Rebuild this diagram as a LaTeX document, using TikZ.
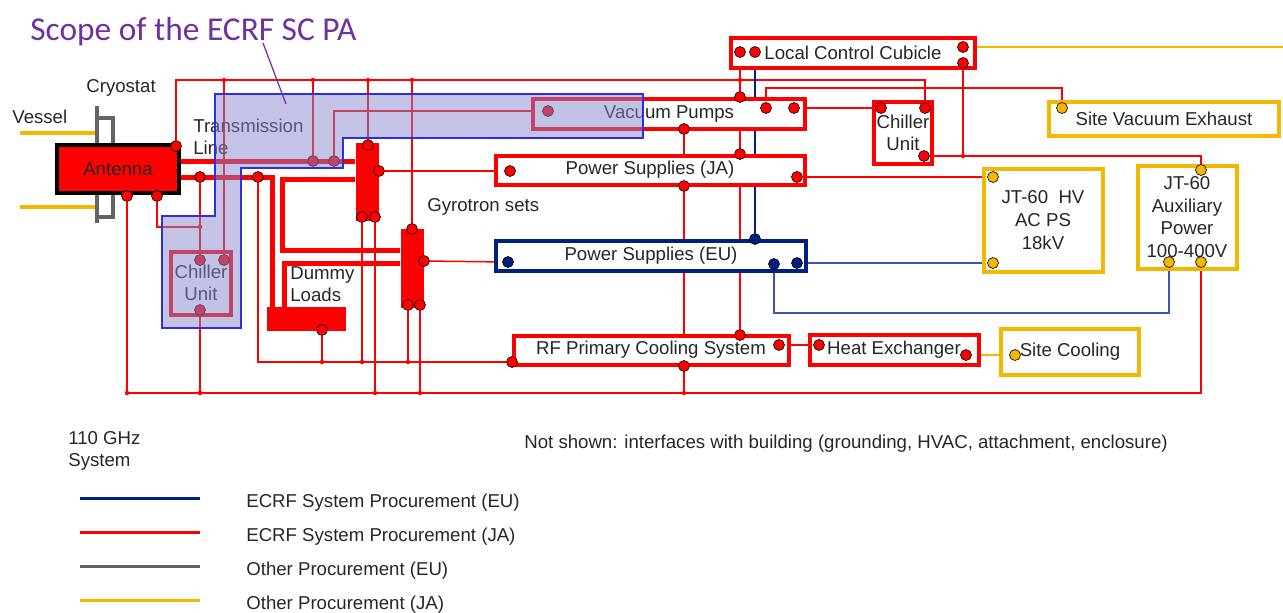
\documentclass[tikz,border=0pt]{standalone}
\usepackage{fontspec}
\setmainfont{Liberation Sans}
\newfontfamily\scopefont{Carlito}
\usepackage{xcolor}
\definecolor{jared}{RGB}{255,0,0}
\definecolor{eunavy}{RGB}{0,32,128}
\definecolor{eulink}{RGB}{60,85,175}
\definecolor{jayellow}{RGB}{243,183,0}
\definecolor{eugray}{RGB}{100,100,100}
\definecolor{scopepurple}{RGB}{112,48,160}
\definecolor{scopefill}{RGB}{135,135,205}
\definecolor{scopeedge}{RGB}{45,45,225}
\definecolor{txtgray}{RGB}{38,38,38}
\usepackage{tikz}
\usetikzlibrary{positioning,calc,backgrounds}
\newcommand\diagfont{\fontsize{10.6pt}{12.6pt}\selectfont}
\tikzset{
  redbox/.style={rectangle,draw=jared,fill=white,line width=0.8mm,text=txtgray,
    align=center,font=\diagfont,inner sep=0.5mm},
  eubox/.style={redbox,draw=eunavy},
  jabox/.style={redbox,draw=jayellow,font=\fontsize{10.6pt}{13pt}\selectfont},
  antbox/.style={redbox,draw=black,fill=jared},
  gyrobox/.style={rectangle,fill=jared,inner sep=0pt},
  rdot/.style={circle,draw=black,line width=0.35pt,fill=jared,minimum size=2.2mm,inner sep=0pt},
  bdot/.style={rdot,fill=eunavy},
  ydot/.style={rdot,fill=jayellow},
  junct/.style={fill=jared},
  wg/.style={draw=jared,line width=1mm},
  sig/.style={draw=jared,line width=0.3mm},
  eusig/.style={draw=eunavy,line width=0.3mm},
  linksig/.style={draw=eulink,line width=0.3mm},
  jasig/.style={draw=jayellow,line width=0.3mm},
  cryo/.style={draw=eugray,line width=0.8mm},
  vessel/.style={draw=jayellow,line width=0.8mm},
  lbl/.style={font=\diagfont,text=txtgray,inner sep=0pt},
  scopearea/.style={draw=scopeedge,line width=0.25mm,fill=scopefill,fill opacity=0.5},
}

\begin{document}
\begin{tikzpicture}[x=0.2mm,y=-0.2mm]
  \useasboundingbox (0,0) rectangle (1283,612);
  % equipment
  \node[antbox,minimum width=24.4mm,minimum height=9.6mm] (ant) at (118,169) {Antenna};
  \node[redbox,minimum width=48.8mm,minimum height=6mm] (lcc) at (853,53) {Local Control Cubicle};
  \node[redbox,minimum width=54.4mm,minimum height=6mm] (vp) at (669,114) {Vacuum Pumps};
  \node[redbox,minimum width=61.8mm,minimum height=5.8mm] (psja) at (650,170) {Power Supplies (JA)};
  \node[eubox,minimum width=62mm,minimum height=6mm] (pseu) at (651,256) {Power Supplies (EU)};
  \node[redbox,minimum width=55mm,minimum height=5.8mm] (rfpcs) at (651,350) {RF Primary Cooling System};
  \node[redbox,minimum width=33.8mm,minimum height=6mm] (hx) at (894,350) {Heat Exchanger};
  \node[redbox,minimum width=11.6mm,minimum height=12.4mm] (chr) at (903,133) {Chiller\\Unit};
  \node[redbox,minimum width=12mm,minimum height=12.6mm] (chl) at (201,283) {Chiller\\Unit};
  \node[jabox,minimum width=46mm,minimum height=6.8mm] (sve) at (1164,119) {Site Vacuum Exhaust};
  \node[jabox,minimum width=23.8mm,minimum height=20.6mm] (hv) at (1043,220) {JT-60\ \ HV\\AC PS\\18kV};
  \node[jabox,minimum width=19.8mm,minimum height=20.6mm] (aux) at (1187,217) {JT-60\\Auxiliary\\Power\\100-400V};
  \node[jabox,minimum width=27.6mm,minimum height=9.2mm] (sc) at (1070,352) {Site Cooling};
  \node[gyrobox,minimum width=4.6mm,minimum height=15.6mm] (gy1) at (367,182) {};
  \node[gyrobox,minimum width=4.6mm,minimum height=15.8mm] (gy2) at (412,268) {};
  \node[gyrobox,minimum width=15.8mm,minimum height=4.8mm] (dl) at (306,319) {};
  % ports
  \foreach \n/\x/\y in {a1/176/146,a2/127/196,a3/157/196,t1/313/161,t2/334/161,w1/200/177,w2/258/177,
      g1t/368/145,g1r/379/171,g1a/362/217,g1b/375/217,g2t/412/229,g2r/424/261,g2a/408/305,g2b/420/305,
      d1/322/330,cl1/200/260,cl2/224/260,cl3/200/310,l1/740/52,l2/755/52,l3/963/47,l4/963/63,
      v1/548/111,v2/740/97,v3/766/108,v4/794/108,v5/684/129,j1/510/171,j2/740/154,j3/684/186,j4/797/177,
      r1/512/362,r2/740/335,r3/684/366,r4/779/345,h1/819/345,h2/966/355,c1/881/108,c2/925/108,c3/924/156}
    {\node[rdot] (\n) at (\x,\y) {};}
  \foreach \n/\x/\y in {e1/508/262,e2/755/239,e3/774/264,e4/797/263}
    {\node[bdot] (\n) at (\x,\y) {};}
  \foreach \n/\x/\y in {s1/1062/108,hv1/993/177,hv2/993/263,x1/1201/170,x2/1169/262,x3/1201/262,sc1/1015/355}
    {\node[ydot] (\n) at (\x,\y) {};}
  \coordinate (tbus) at (600,80);
  \coordinate (vbus) at (900,88);
  \coordinate (bbus) at (600,393);
  \coordinate (ebus) at (1000,313);
  \coordinate (cj) at ($(w1)!0.6!(cl1)$);
  \coordinate (lccout) at (1283,47);
  \begin{pgfonlayer}{background}
    \draw[vessel] (20,133) -- (97,133) (20,207) -- (97,207);
    \draw[cryo] (97,106) -- (97,145) (97,118) -- (113,118) -- (113,145)
                (97,194) -- (97,223) (97,217) -- (113,217) -- (113,194);
    % waveguides
    \draw[wg] (ant.east |- t1) -- (gy1.west |- t1);
    \draw[wg] (ant.east |- w1) -| ([xshift=-6.8mm]dl.north);
    \draw[wg] ([yshift=0.6mm]gy1.west) -- ++(-73,0) |- ([yshift=3.6mm]gy2.west);
    \draw[wg] ([yshift=1mm]gy2.west) -| ([xshift=-4.4mm]dl.north);
    % control and cooling lines
    \draw[sig] (a1) |- (tbus) -| (c2);
    \draw[sig] (a2) |- (bbus) -| (x3);
    \draw[sig] (w2) |- (r1);
    \draw[sig] (a3) |- (cj);
    \draw[sig] (t2) |- (v1);
    \draw[sig] (v3) |- (vbus) -| (s1);
    \draw[sig] (c3) -| (x1);
    \draw[sig] (l1) -- (r2);
    \draw[sig] (v5) -- (r3 |- bbus);
    \draw[sig] (l4) -- (l4 |- c3);
    \foreach \a/\b in {w1/cl1,v4/c1,g1r/j1,g2r/e1,j4/hv1,r4/h1}{\draw[sig] (\a) -- (\b);}
    \foreach \p in {cl2,t1,g1t,g2t}{\draw[sig] (\p) -- (\p |- tbus);}
    \foreach \p in {cl3,g1b,g2b}{\draw[sig] (\p) -- (\p |- bbus);}
    \foreach \p in {d1,g1a,g2a}{\draw[sig] (\p) -- (\p |- r1);}
    \draw[eusig] (l2) -- (e2);
    \draw[linksig] (e4) -- (hv2);
    \draw[linksig] (e3) |- (ebus) -| (x2);
    \draw[jasig] (l3) -- (lccout);
    \draw[jasig] (h2) -- (sc1);
  \end{pgfonlayer}
  \foreach \p in {cl2,t1,g1t,g2t,l1}{\fill[junct] (\p |- tbus) circle (0.45mm);}
  \foreach \p in {a2,cl3,g1b,g2b,r3}{\fill[junct] (\p |- bbus) circle (0.45mm);}
  \foreach \p in {d1,g1a,g2a}{\fill[junct] (\p |- r1) circle (0.45mm);}
  \fill[junct] (cj) circle (0.45mm) (l4 |- c3) circle (0.45mm);
  % labels
  \node[lbl,anchor=west] (vessel) at (12,117) {Vessel};
  \node[lbl,anchor=west] (cryostat) at (86,88) {Cryostat};
  \node[lbl,anchor=west,align=left] (tline) at (193,137) {Transmission\\Line};
  \node[lbl,anchor=west,align=left] (dload) at (290,284) {Dummy\\Loads};
  \node[lbl,anchor=west] (gyro) at (427,207) {Gyrotron sets};
  % scope of the PA
  \draw[scopearea] (215,94) -- (643,94) -- (643,138) -- (343,138) -- (343,168) -- (241,168)
    -- (241,328) -- (162,328) -- (162,216) -- (215,216) -- cycle;
  \node[font=\scopefont\fontsize{19pt}{22pt}\selectfont,text=scopepurple,anchor=base west,inner sep=0pt]
    (title) at (30,40) {Scope of the ECRF SC PA};
  \coordinate (scopetip) at (286,104);
  \draw[scopepurple,line width=0.25mm] ($(title.base west)+(233,3)$) -- (scopetip);
  % legend
  \node[lbl,anchor=west,align=left] (sys) at (68,451) {110 GHz\\System};
  \node[lbl,anchor=west] (note) at (524,444)
    {Not shown: interfaces with building (grounding, HVAC, attachment, enclosure)};
  \foreach \c/\t [count=\i] in {eunavy/ECRF System Procurement (EU),jared/ECRF System Procurement (JA),
      eugray/Other Procurement (EU),jayellow/Other Procurement (JA)}{
    \coordinate (key\i) at (80,{464+34*\i});
    \draw[\c,line width=0.6mm] (key\i) -- ++(120,0);
    \node[lbl,anchor=west] (keytext\i) at ($(key\i)+(166,5)$) {\t};
  }
\end{tikzpicture}
\end{document}
